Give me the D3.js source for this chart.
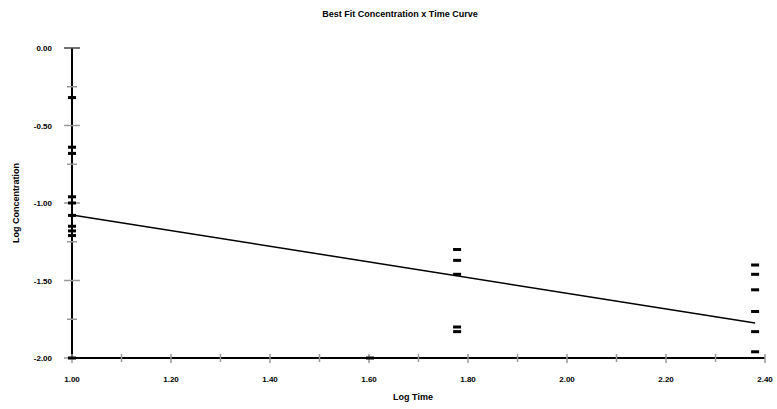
<!DOCTYPE html>
<html>
<head>
<meta charset="utf-8">
<script src="https://cdnjs.cloudflare.com/ajax/libs/d3/7.8.5/d3.min.js"></script>
<style>
  body { margin: 0; background: white; }
  text { font-family: "Liberation Sans", Arial, sans-serif; font-weight: bold; fill: black; }
</style>
</head>
<body>
<svg id="display"></svg>
<script>
"use strict";

var width = 777,
    height = 409;

// observations: log time, log concentration
var obsTime = [1.0, 1.0, 1.0, 1.0, 1.0, 1.0, 1.0, 1.0, 1.0, 1.0,
               1.602,
               1.778, 1.778, 1.778, 1.778, 1.778,
               2.38, 2.38, 2.38, 2.38, 2.38, 2.38];
var obsConc = [-0.32, -0.64, -0.68, -0.96, -1.0, -1.08, -1.15, -1.18, -1.21, -2.0,
               -2.0,
               -1.30, -1.37, -1.46, -1.80, -1.83,
               -1.40, -1.46, -1.56, -1.70, -1.83, -1.96];

// best fit line endpoints
var fitTime = [1.0, 2.38];
var fitConc = [-1.077, -1.774];

var xTicks = [1.0, 1.2, 1.4, 1.6, 1.8, 2.0, 2.2, 2.4];
var xMinor = [1.1, 1.3, 1.5, 1.7, 1.9, 2.1, 2.3];
var yTicks = [0, -0.5, -1.0, -1.5, -2.0];
var yMinor = [-0.25, -0.75, -1.25, -1.75];

var svg = d3.select('#display').attr('width', width).attr('height', height);

var x = d3.scaleLinear().domain([1.0, 2.4]).range([72, 765]);
var y = d3.scaleLinear().domain([0, -2.0]).range([48, 358]);

svg.append('text')
  .attr('x', 400).attr('y', 17)
  .attr('text-anchor', 'middle')
  .style('font-size', '9px')
  .text('Best Fit Concentration x Time Curve');

// y axis
var yAxis = svg.append('g').attr('transform', 'translate(72,0)');
yAxis.append('line')
  .attr('x1', 0).attr('x2', 0).attr('y1', y(0)).attr('y2', y(-2))
  .attr('stroke', 'black').attr('stroke-width', 2);
yAxis.selectAll('.ymaj').data(yTicks).enter().append('line')
  .attr('x1', function(d){ return d === 0 ? -8 : -8; })
  .attr('x2', 8)
  .attr('y1', function(d){ return y(d); })
  .attr('y2', function(d){ return y(d); })
  .attr('stroke', function(d){ return d === 0 ? '#444' : '#999'; })
  .attr('stroke-width', 1.5);
yAxis.selectAll('.ymin').data(yMinor).enter().append('line')
  .attr('x1', -5).attr('x2', 5)
  .attr('y1', function(d){ return y(d); })
  .attr('y2', function(d){ return y(d); })
  .attr('stroke', '#999').attr('stroke-width', 1.5);
yAxis.selectAll('.ylab').data(yTicks).enter().append('text')
  .attr('x', -20)
  .attr('y', function(d){ return y(d) + 3; })
  .attr('text-anchor', 'end')
  .style('font-size', '8px')
  .text(function(d){ return d3.format('.2f')(d).replace('−', '-'); });

// x axis
var xAxis = svg.append('g').attr('transform', 'translate(0,' + y(-2) + ')');
xAxis.append('line')
  .attr('x1', x(1.0)).attr('x2', x(2.4)).attr('y1', 0).attr('y2', 0)
  .attr('stroke', 'black').attr('stroke-width', 2);
xAxis.selectAll('.xmaj').data(xTicks).enter().append('line')
  .attr('x1', function(d){ return x(d); })
  .attr('x2', function(d){ return x(d); })
  .attr('y1', -4).attr('y2', 5)
  .attr('stroke', '#999').attr('stroke-width', 1.5);
xAxis.selectAll('.xmin').data(xMinor).enter().append('line')
  .attr('x1', function(d){ return x(d); })
  .attr('x2', function(d){ return x(d); })
  .attr('y1', -4).attr('y2', 4)
  .attr('stroke', '#999').attr('stroke-width', 1.5);
xAxis.selectAll('.xlab').data(xTicks).enter().append('text')
  .attr('x', function(d){ return x(d); })
  .attr('y', 24)
  .attr('text-anchor', 'middle')
  .style('font-size', '8px')
  .text(function(d){ return d3.format('.2f')(d); });

svg.append('text')
  .attr('x', 413).attr('y', 400)
  .attr('text-anchor', 'middle')
  .style('font-size', '9px')
  .text('Log Time');

svg.append('text')
  .attr('transform', 'translate(19,' + y(-1.0) + ') rotate(-90)')
  .attr('text-anchor', 'middle')
  .style('font-size', '9px')
  .text('Log Concentration');

// fit line
var line = d3.line()
  .x(function(d){ return x(fitTime[d]); })
  .y(function(d){ return y(fitConc[d]); });
svg.append('path')
  .attr('d', line([0, 1]))
  .attr('fill', 'none')
  .attr('stroke', 'black')
  .attr('stroke-width', 1.5);

// points
svg.selectAll('.pt').data(obsTime).enter().append('rect')
  .attr('class', 'pt')
  .attr('x', function(d){ return x(d) - 4; })
  .attr('y', function(d, i){ return y(obsConc[i]) - 1.5; })
  .attr('width', 8)
  .attr('height', 3)
  .attr('fill', 'black');
</script>
</body>
</html>
